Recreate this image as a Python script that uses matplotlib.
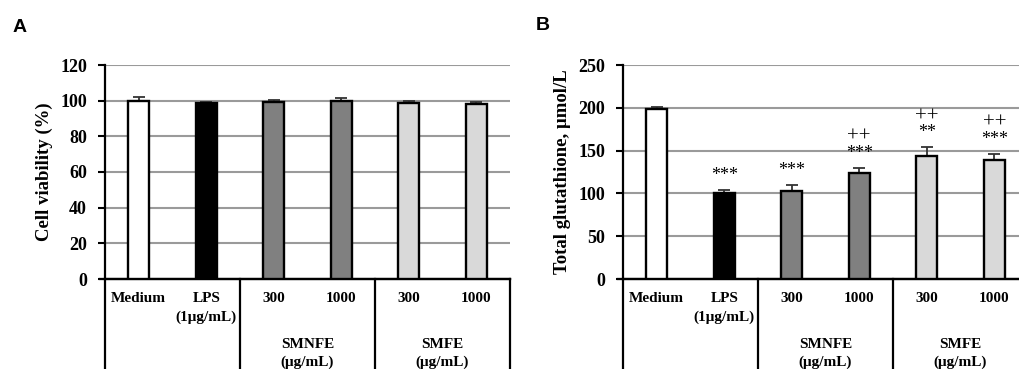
import matplotlib.pyplot as plt
import numpy as np

plt.rcParams['font.family'] = ['Liberation Serif', 'DejaVu Serif']
plt.rcParams['font.weight'] = 'bold'

groups = ['Medium', 'LPS', '300', '1000', '300', '1000']
colors = ['white', 'black', '#808080', '#808080', '#d9d9d9', '#d9d9d9']

viability = [100, 98.5, 99.3, 100, 98.6, 98]
viability_err = [2, 1, 1, 1.5, 1.2, 1.3]

gsh = [199, 101, 103, 124, 144, 139]
gsh_err = [2, 3, 7, 6, 10, 7]
gsh_stars = ['', '***', '***', '***', '**', '***']
gsh_plus = ['', '', '', '++', '++', '++']

W, H = 1019, 369
fig = plt.figure(figsize=(W / 100, H / 100), dpi=100)


def panel(left, ylabel, vals, errs, ymax, step, stars=None, plus=None, lfs=13):
    ax = fig.add_axes([left / W, (H - 279) / H, 405 / W, 214 / H])
    x = np.arange(len(vals))
    ax.bar(x, vals, width=0.31, color=colors, edgecolor='black', linewidth=1.7, zorder=3)
    ax.errorbar(x, vals, yerr=[np.zeros(len(errs)), errs], fmt='none',
                ecolor='#333333', elinewidth=1.3, capsize=4.5, capthick=1.3, zorder=2)
    ax.set_xlim(-0.5, 5.5)
    ax.set_ylim(0, ymax)
    ax.set_yticks(np.arange(0, ymax + 1, step))
    ax.yaxis.grid(True, color='#9a9a9a', linewidth=1.5, zorder=0)
    ax.set_axisbelow(True)
    for s in ['top', 'right']:
        ax.spines[s].set_visible(False)
    ax.spines['left'].set_linewidth(1.6)
    ax.spines['bottom'].set_linewidth(1.6)
    ax.set_xticks([])
    ax.tick_params(axis='y', length=5, width=1.5, labelsize=13, pad=8)
    for t in ax.get_yticklabels():
        t.set_fontweight('bold')
    ax.set_ylabel(ylabel, fontsize=lfs, fontweight='bold', labelpad=5)

    # table lines below the axis
    depth = -(H - 279) / 214
    for xv in [-0.5, 1.5, 3.5, 5.5]:
        ax.plot([xv, xv], [0, depth * ymax], color='black', lw=1.6, clip_on=False)
    ax.plot([-0.58, 5.5], [0, 0], color='black', lw=1.6, clip_on=False)

    yt = lambda px: -(px - 279) / 214 * ymax
    for i in range(6):
        ax.text(i, yt(298), groups[i], ha='center', va='center', fontsize=11)
    ax.text(1, yt(317), '(1μg/mL)', ha='center', va='center', fontsize=11)
    for c, name in [(2.5, 'SMNFE'), (4.5, 'SMFE')]:
        ax.text(c, yt(345), name, ha='center', va='center', fontsize=11)
        ax.text(c, yt(362), '(μg/mL)', ha='center', va='center', fontsize=11)

    upp = ymax / 214  # data units per pixel
    if stars:
        for i, m in enumerate(stars):
            top = vals[i] + errs[i]
            if m:
                ax.text(i, top + 10 * upp, m, ha='center', va='baseline',
                        fontsize=13, fontweight='normal')
            if plus[i]:
                ax.text(i, top + 26 * upp, plus[i], ha='center', va='baseline',
                        fontsize=15, fontweight='normal')
    return ax


panel(105, 'Cell viability (%)', viability, viability_err, 120, 20, lfs=13.5)
panel(623, 'Total glutathione, μmol/L', gsh, gsh_err, 250, 50, gsh_stars, gsh_plus, lfs=13.5)

fig.text(13 / W, 1 - 27 / H, 'A', fontsize=14, fontweight='bold',
         family='Liberation Sans', va='center')
fig.text(536 / W, 1 - 26 / H, 'B', fontsize=14, fontweight='bold',
         family='Liberation Sans', va='center')

fig.savefig('out.png', dpi=100)
